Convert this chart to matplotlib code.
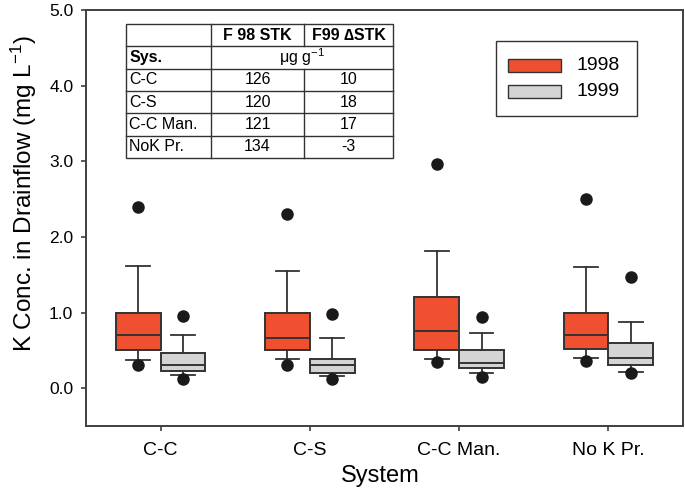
import matplotlib
matplotlib.use("Agg")
import matplotlib.pyplot as plt
from matplotlib.patches import Rectangle
from matplotlib.lines import Line2D
import numpy as np

plt.rcParams['font.family'] = ['Liberation Sans', 'DejaVu Sans']
plt.rcParams['mathtext.default'] = 'regular'

# --- data ---
systems = ["C-C", "C-S", "C-C Man.", "No K Pr."]
years = ["1998", "1999"]
colors = {"1998": "#EF5030", "1999": "#D4D4D4"}

# 1998 boxes
med_98 = [0.70, 0.66, 0.75, 0.70]
q1_98 = [0.50, 0.50, 0.51, 0.515]
q3_98 = [1.00, 1.00, 1.20, 1.00]
wlo_98 = [0.37, 0.39, 0.39, 0.40]
whi_98 = [1.62, 1.55, 1.81, 1.60]
fl_98 = [[2.39, 0.30], [2.30, 0.30], [2.97, 0.34], [2.50, 0.365]]

# 1999 boxes
med_99 = [0.30, 0.30, 0.335, 0.40]
q1_99 = [0.225, 0.205, 0.27, 0.30]
q3_99 = [0.46, 0.39, 0.50, 0.60]
wlo_99 = [0.18, 0.167, 0.20, 0.215]
whi_99 = [0.70, 0.665, 0.73, 0.876]
fl_99 = [[0.95, 0.12], [0.98, 0.115], [0.946, 0.15], [1.466, 0.205]]

# inset table
tbl_header = ["", "F 98 STK", "F99 \u2206STK"]
tbl_units = "\u03bcg g$^{-1}$"
tbl_sys = ["C-C", "C-S", "C-C Man.", "NoK Pr."]
tbl_f98 = ["126", "120", "121", "134"]
tbl_f99 = ["10", "18", "17", "-3"]

W, H = 685, 495
fig = plt.figure(figsize=(W / 100, H / 100), dpi=100)
ax = fig.add_axes([86 / W, 1 - 426 / H, (683 - 86) / W, (426 - 10) / H])


def px(x, y):
    return x / W, 1 - y / H


def stats(med, q1, q3, lo, hi, fl):
    return [dict(med=m, q1=a, q3=b, whislo=c, whishi=d, fliers=f)
            for m, a, b, c, d, f in zip(med, q1, q3, lo, hi, fl)]


pos = np.arange(1, len(systems) + 1)
bw = 0.30
edge = "#333333"
groups = [(stats(med_98, q1_98, q3_98, wlo_98, whi_98, fl_98), -bw / 2, "1998"),
          (stats(med_99, q1_99, q3_99, wlo_99, whi_99, fl_99), bw / 2, "1999")]
for st, off, yr in groups:
    ax.bxp(st, positions=pos + off, widths=bw, patch_artist=True,
           capwidths=0.16,
           boxprops=dict(facecolor=colors[yr], edgecolor=edge, linewidth=1.4),
           medianprops=dict(color=edge, linewidth=1.4),
           whiskerprops=dict(color=edge, linewidth=1.3),
           capprops=dict(color=edge, linewidth=1.3),
           flierprops=dict(marker='o', markerfacecolor='#1a1a1a',
                           markeredgecolor='#1a1a1a', markersize=8))

ax.set_xlim(0.5, 4.5)
ax.set_ylim(-0.5, 5.0)
ax.set_xticks(pos)
ax.set_xticklabels(systems, fontsize=14)
ax.set_yticks(np.arange(0, 5.1, 1.0))
ax.set_yticklabels([f"{v:.1f}" for v in np.arange(0, 5.1, 1.0)], fontsize=12.5)
ax.tick_params(direction='out', length=3.6, width=1.2, color="#404040")
ax.tick_params(axis='x', pad=8)
ax.tick_params(axis='y', pad=5.5)
for s in ax.spines.values():
    s.set_color("#404040")
    s.set_linewidth(1.4)

fig.text(*px(380, 476), "System", fontsize=17, ha='center', va='center')
fig.text(*px(24, 193), "K Conc. in Drainflow (mg L$^{-1}$)", fontsize=17.5,
         rotation=90, ha='center', va='center')

# inset table drawn in pixel space
xe = [126, 211, 304, 393]
ye = np.linspace(24, 158, 7)
lc = "#333333"
tf = 11.5


def hline(x0, x1, y):
    fig.add_artist(Line2D([x0 / W, x1 / W], [1 - y / H, 1 - y / H], color=lc, lw=1.0))


def vline(x, y0, y1):
    fig.add_artist(Line2D([x / W, x / W], [1 - y0 / H, 1 - y1 / H], color=lc, lw=1.0))


fig.add_artist(Rectangle(px(xe[0], ye[-1]), (xe[-1] - xe[0]) / W, (ye[-1] - ye[0]) / H,
                         facecolor='white', edgecolor=lc, lw=1.0))
for y in ye[1:-1]:
    hline(xe[0], xe[-1], y)
vline(xe[1], ye[0], ye[-1])
vline(xe[2], ye[0], ye[1])
vline(xe[2], ye[2], ye[-1])

rc = lambda i: (ye[i] + ye[i + 1]) / 2
for j in (1, 2):
    fig.text(*px((xe[j] + xe[j + 1]) / 2, rc(0)), tbl_header[j], fontsize=tf,
             fontweight='bold', ha='center', va='center')
fig.text(*px(xe[0] + 4, rc(1)), "Sys.", fontsize=tf, fontweight='bold',
         ha='left', va='center')
fig.text(*px((xe[1] + xe[3]) / 2, rc(1)), tbl_units, fontsize=tf,
         ha='center', va='center')
for i, (s, a, b) in enumerate(zip(tbl_sys, tbl_f98, tbl_f99)):
    r = rc(i + 2)
    fig.text(*px(xe[0] + 3, r), s, fontsize=tf, ha='left', va='center')
    fig.text(*px((xe[1] + xe[2]) / 2, r), a, fontsize=tf, ha='center', va='center')
    fig.text(*px((xe[2] + xe[3]) / 2, r), b, fontsize=tf, ha='center', va='center')

# legend box
fig.add_artist(Rectangle(px(496, 116), (637 - 496) / W, (116 - 41) / H,
                         facecolor='white', edgecolor=lc, lw=1.0))
for k, yr in enumerate(years):
    yc = 65.3 + 26 * k
    fig.add_artist(Rectangle(px(508, yc + 6.3), (561 - 508) / W, 12.6 / H,
                             facecolor=colors[yr], edgecolor=edge, lw=1.0))
    fig.text(*px(576, yc), yr, fontsize=14, ha='left', va='center')

fig.savefig("out.png", dpi=100)
